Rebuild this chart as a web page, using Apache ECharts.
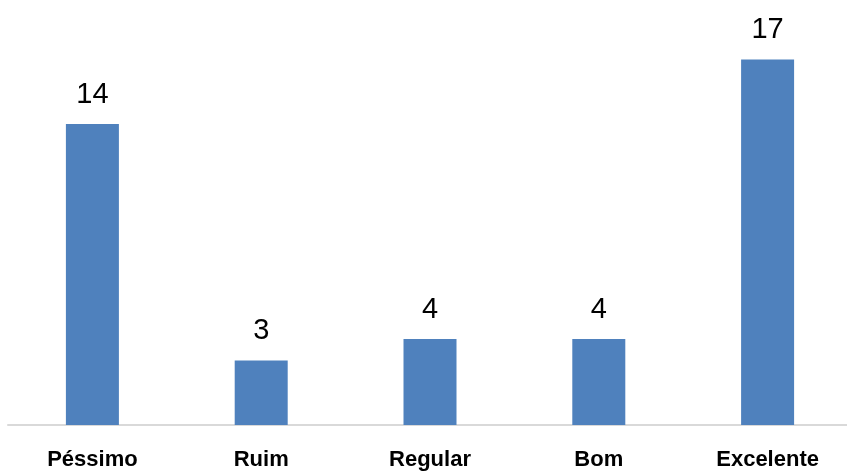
<!DOCTYPE html>
<html>
<head>
<meta charset="utf-8">
<script src="https://cdn.jsdelivr.net/npm/echarts@6/dist/echarts.min.js"></script>
<style>html,body{margin:0;padding:0;background:#fff;}#c{width:847px;height:471px;}</style>
</head>
<body>
<div id="c"></div>
<script>
var categories = ['Péssimo', 'Ruim', 'Regular', 'Bom', 'Excelente'];
var values = [14, 3, 4, 4, 17];

var chart = echarts.init(document.getElementById('c'), null, {renderer: 'canvas'});
chart.setOption({
  animation: false,
  backgroundColor: '#ffffff',
  grid: {left: 8, width: 844, top: 38, bottom: 46, containLabel: false, outerBoundsMode: 'none'},
  xAxis: {
    type: 'category',
    data: categories,
    axisLine: {show: true, lineStyle: {color: '#d9d9d9', width: 2}},
    axisTick: {show: false},
    axisLabel: {
      margin: 24,
      color: '#000000',
      fontFamily: '"Liberation Sans", Arial, sans-serif',
      fontWeight: 'bold',
      fontSize: 22
    }
  },
  yAxis: {
    type: 'value',
    min: 0,
    max: 18,
    show: false,
    splitLine: {show: false}
  },
  series: [{
    type: 'bar',
    data: values,
    barWidth: 53,
    itemStyle: {color: '#4f81bd'},
    label: {
      show: true,
      position: 'top',
      distance: 15,
      color: '#000000',
      fontFamily: '"Liberation Sans", Arial, sans-serif',
      fontSize: 29
    }
  }]
});
</script>
</body>
</html>
